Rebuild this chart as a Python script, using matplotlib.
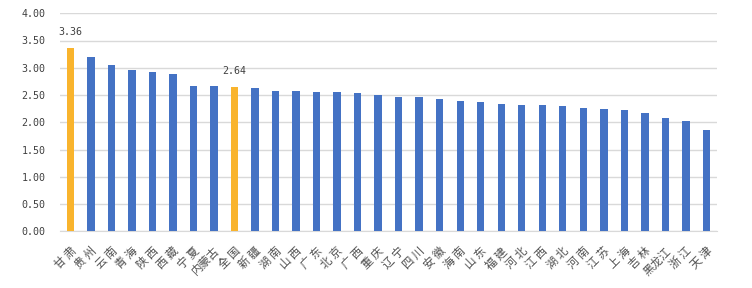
import matplotlib
matplotlib.use('Agg')
import matplotlib.pyplot as plt

plt.rcParams['font.family'] = ['Noto Sans CJK JP', 'DejaVu Sans']

# 地区与数值
regions = ['甘 肃', '贵 州', '云 南', '青 海', '陕 西', '西 藏', '宁 夏', '内蒙古', '全 国', '新 疆',
           '湖 南', '山 西', '广 东', '北 京', '广 西', '重 庆', '辽 宁', '四 川', '安 徽', '海 南',
           '山 东', '福 建', '河 北', '江 西', '湖 北', '河 南', '江 苏', '上 海', '吉 林', '黑龙江',
           '浙 江', '天 津']
values = [3.36, 3.20, 3.05, 2.95, 2.93, 2.89, 2.67, 2.67, 2.64, 2.63,
          2.58, 2.57, 2.55, 2.55, 2.53, 2.50, 2.47, 2.46, 2.43, 2.39,
          2.38, 2.33, 2.32, 2.31, 2.29, 2.26, 2.25, 2.22, 2.17, 2.07,
          2.02, 1.86]
highlight = ['甘 肃', '全 国']

blue = '#4472C4'
orange = '#F9B42D'
colors = [orange if r in highlight else blue for r in regions]
num_font = ['DejaVu Sans Mono']

fig = plt.figure(figsize=(7.52, 2.88), dpi=100)
ax = fig.add_axes([0.08, 0.197, 0.873, 0.757])

x = range(len(regions))
ax.bar(x, values, width=0.36, color=colors, zorder=3)

# 标注高亮数值
for i, (r, v) in enumerate(zip(regions, values)):
    if r in highlight:
        ax.text(i, v + 0.2, f'{v:.2f}', ha='center', va='bottom', fontsize=7.2,
                color='#404040', family=num_font)

ax.set_ylim(0, 4)
ax.set_xlim(-0.5, len(regions) - 0.5)
ax.set_yticks([0, 0.5, 1, 1.5, 2, 2.5, 3, 3.5, 4])
ax.set_yticklabels([f'{t:.2f}' for t in ax.get_yticks()], fontsize=7.2, color='#404040',
                   family=num_font)
ax.set_xticks(list(x))
ax.set_xticklabels(regions, rotation=45, ha='right', rotation_mode='anchor', fontsize=8.2, color='#505050')

ax.yaxis.grid(True, color='#D9D9D9', linewidth=1, zorder=0)
ax.tick_params(length=0)
ax.tick_params(axis='y', pad=10.5)
ax.tick_params(axis='x', pad=10)
for s in ['top', 'right', 'left']:
    ax.spines[s].set_visible(False)
ax.spines['bottom'].set_color('#D9D9D9')

plt.savefig('out.png', dpi=100)
